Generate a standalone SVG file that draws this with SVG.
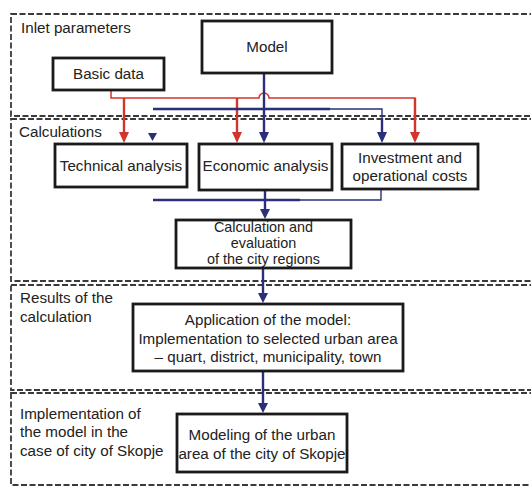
<svg xmlns="http://www.w3.org/2000/svg" width="531" height="488" viewBox="0 0 531 488">
<style>
.panel{fill:none;stroke:#3a3a3a;stroke-width:1.8;stroke-dasharray:6,2.5}
.box{fill:#fff;stroke:#1a1a1a;stroke-width:2.8}
.t{font-family:"Liberation Sans",Arial,sans-serif;font-size:15.2px;fill:#222}
.s{font-size:14.4px}
.c{text-anchor:middle}
.red{fill:none;stroke:#d2352c;stroke-width:1.5}
.redT{fill:none;stroke:#d2352c;stroke-width:2.4}
.blue{fill:none;stroke:#2b2f78;stroke-width:2.4}
.blueN{fill:none;stroke:#2b2f78;stroke-width:1.4}
.ra{fill:#d2352c}
.ba{fill:#2b2f78}
</style>
<rect width="531" height="488" fill="#fff"/>
<g id="panels">
<rect class="panel" x="11" y="14" width="540" height="102"/>
<rect class="panel" x="11" y="119" width="540" height="162"/>
<rect class="panel" x="11" y="285" width="540" height="105"/>
<rect class="panel" x="11" y="393" width="540" height="92"/>
<text class="t" x="21" y="33">Inlet parameters</text>
<text class="t" x="19" y="137">Calculations</text>
<text class="t" x="20" y="303">Results of the</text>
<text class="t" x="20" y="322">calculation</text>
<text class="t" x="20" y="419">Implementation of</text>
<text class="t" x="20" y="437">the model in the</text>
<text class="t" x="20" y="456">case of city of Skopje</text>
</g>
<g id="connectors">
<path class="red" d="M111,90 V98 H259 A5,5 0 0 1 269,98 H415 V134"/>
<path class="redT" d="M124,98 V134"/>
<path class="redT" d="M237,98 V134"/>
<path class="redT" d="M415,98 V134"/>
<polygon class="ra" points="119,132 129,132 124,143"/>
<polygon class="ra" points="232,132 242,132 237,143"/>
<polygon class="ra" points="410,132 420,132 415,143"/>
<path class="blue" d="M264,73 V134"/>
<path class="blue" d="M153,109 H330"/>
<path class="blueN" d="M330,109 H382 V120"/>
<path class="blue" d="M382,118 V134"/>
<polygon class="ba" points="259,132 269,132 264,143"/>
<polygon class="ba" points="377,132 387,132 382,143"/>
<polygon class="ba" points="148,133 157,133 152.5,141"/>
<path class="blue" d="M153,200 H300"/>
<path class="blueN" d="M300,200 H381 V190"/>
<path class="blue" d="M265,190 V211"/>
<polygon class="ba" points="260,209 270,209 265,219"/>
<path class="blue" d="M263,268 V295"/>
<polygon class="ba" points="258,293 268,293 263,303"/>
<path class="blue" d="M263,371 V405"/>
<polygon class="ba" points="258,403 268,403 263,413"/>
</g>
<g id="model">
<rect class="box" x="202" y="21" width="130" height="52"/>
<text class="t c" x="267" y="52">Model</text>
</g>
<g id="basic-data">
<rect class="box" x="53" y="58" width="111" height="32"/>
<text class="t c" x="108.5" y="79">Basic data</text>
</g>
<g id="technical-analysis">
<rect class="box" x="55" y="144" width="132" height="43"/>
<text class="t c" x="121" y="171">Technical analysis</text>
</g>
<g id="economic-analysis">
<rect class="box" x="199" y="144" width="133" height="46"/>
<text class="t c" x="265.5" y="171">Economic analysis</text>
</g>
<g id="investment">
<rect class="box" x="342" y="144" width="136" height="45"/>
<text class="t c" x="410" y="163">Investment and</text>
<text class="t c" x="410" y="181">operational costs</text>
</g>
<g id="calculation">
<rect class="box" x="176" y="220" width="175" height="48"/>
<text class="t s c" x="263.5" y="232">Calculation and</text>
<text class="t s c" x="263.5" y="248">evaluation</text>
<text class="t s c" x="263.5" y="264">of the city regions</text>
</g>
<g id="application">
<rect class="box" x="133" y="304" width="270" height="67"/>
<text class="t c" x="268" y="325">Application of the model:</text>
<text class="t c" x="268" y="344">Implementation to selected urban area</text>
<text class="t c" x="268" y="362">– quart, district, municipality, town</text>
</g>
<g id="modeling">
<rect class="box" x="177" y="414" width="170" height="58"/>
<text class="t c" x="262" y="440">Modeling of the urban</text>
<text class="t c" x="262" y="459">area of the city of Skopje</text>
</g>
</svg>
